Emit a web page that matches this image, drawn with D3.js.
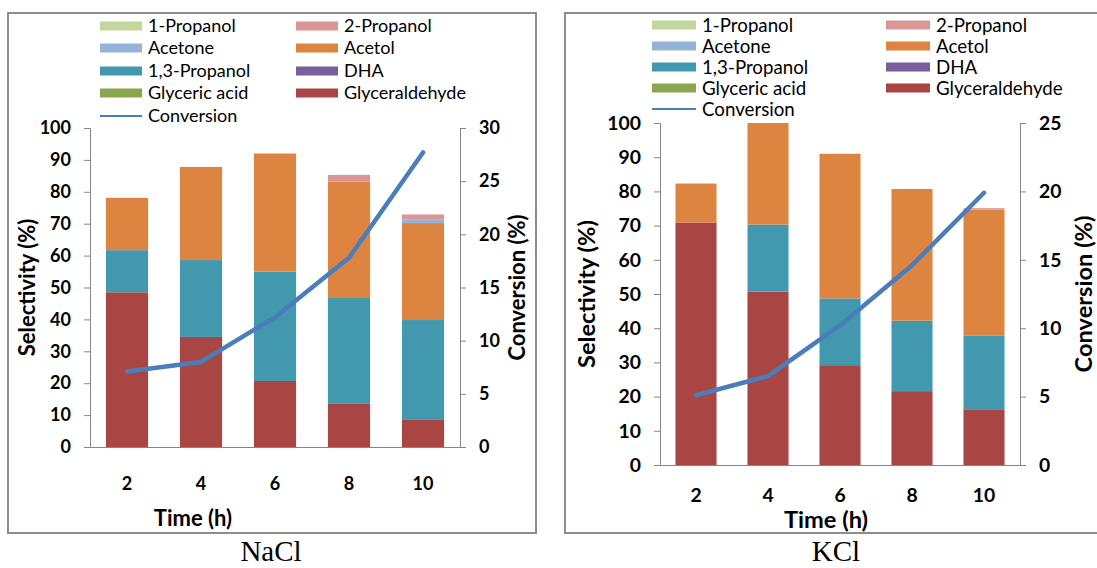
<!DOCTYPE html>
<html>
<head>
<meta charset="utf-8">
<script src="https://cdn.jsdelivr.net/npm/d3@7"></script>
<style>
  body { margin: 0; background: #fff; }
  svg { display: block; font-family: Lato, "Open Sans", sans-serif; }
</style>
</head>
<body>
<svg id="fig" width="1097" height="568"></svg>
<script>
// reaction time categories (h)
var times = ["2", "4", "6", "8", "10"];

// NaCl - selectivity (%) per product, and glycerol conversion (%)
var naclGlyceraldehyde = [48.5, 34.5, 20.7, 13.7, 8.7];
var naclGlycericAcid   = [0, 0, 0, 0, 0];
var naclDHA            = [0, 0, 0, 0, 0];
var naclPropanediol    = [13.2, 24.1, 34.3, 33.0, 31.1];
var naclAcetol         = [16.4, 29.2, 37.0, 36.5, 30.4];
var naclAcetone        = [0, 0, 0, 0, 1.2];
var nacl2Propanol      = [0, 0, 0, 2.1, 1.5];
var nacl1Propanol      = [0, 0, 0, 0, 0];
var naclConversion     = [7.1, 8.0, 12.2, 17.8, 27.7];

// KCl
var kclGlyceraldehyde = [70.9, 50.7, 29.2, 21.6, 16.1];
var kclGlycericAcid   = [0, 0, 0, 0, 0];
var kclDHA            = [0, 0, 0, 0, 0];
var kclPropanediol    = [0, 19.6, 19.5, 20.6, 21.8];
var kclAcetol         = [11.4, 29.7, 42.3, 38.5, 36.8];
var kclAcetone        = [0, 0, 0, 0, 0];
var kcl2Propanol      = [0, 0, 0, 0, 0.4];
var kcl1Propanol      = [0, 0, 0, 0, 0];
var kclConversion     = [5.1, 6.5, 10.2, 14.6, 19.9];

// legend order (two columns, read row by row)
var legendNames = ["1-Propanol", "2-Propanol", "Acetone", "Acetol",
                   "1,3-Propanol", "DHA", "Glyceric acid", "Glyceraldehyde"];
// stacking order, bottom to top
var stackKeys = ["Glyceraldehyde", "Glyceric acid", "DHA", "1,3-Propanol",
                 "Acetol", "Acetone", "2-Propanol", "1-Propanol"];

var colors = {
  "1-Propanol": "#c3d69b",
  "2-Propanol": "#d99694",
  "Acetone": "#95b3d7",
  "Acetol": "#dd8540",
  "1,3-Propanol": "#4298af",
  "DHA": "#7b5f9c",
  "Glyceric acid": "#8aa64f",
  "Glyceraldehyde": "#a94644"
};
var lineColor = "#4a7ebb";
var axisColor = "#868686";

var svg = d3.select("#fig");

// build row objects for d3.stack
function makeRows(s) {
  return times.map(function (t, i) {
    return {
      time: t,
      "Glyceraldehyde": s.gly[i],
      "Glyceric acid": s.ga[i],
      "DHA": s.dha[i],
      "1,3-Propanol": s.pd[i],
      "Acetol": s.acetol[i],
      "Acetone": s.acetone[i],
      "2-Propanol": s.p2[i],
      "1-Propanol": s.p1[i],
      conv: s.conv[i]
    };
  });
}

function drawPanel(p) {
  var g = svg.append("g");
  var k = p.k; // the two panels were pasted at slightly different sizes

  // outer frame
  g.append("rect")
    .attr("x", p.frame[0]).attr("y", p.frame[1])
    .attr("width", p.frame[2]).attr("height", p.frame[3])
    .attr("fill", "none").attr("stroke", "#8c8c8c").attr("stroke-width", 2);

  var x = d3.scaleBand().domain(times).range([p.left, p.right])
    .paddingInner(0.43).paddingOuter(0.215);
  var y = d3.scaleLinear().domain([0, 100]).range([p.bottom, p.top]);
  var y2 = d3.scaleLinear().domain([0, p.convMax]).range([p.bottom, p.top]);

  var stacked = d3.stack().keys(stackKeys)(p.rows);

  // bars
  g.selectAll("g.layer").data(stacked).enter().append("g")
    .attr("fill", function (d) { return colors[d.key]; })
    .selectAll("rect").data(function (d) { return d; }).enter().append("rect")
    .attr("x", function (d) { return x(d.data.time); })
    .attr("width", x.bandwidth())
    .attr("y", function (d) { return y(d[1]); })
    .attr("height", function (d) { return y(d[0]) - y(d[1]); });

  // axes
  var styleAxis = function (a) {
    a.attr("font-family", null);
    a.selectAll("path, line").attr("stroke", axisColor);
    a.selectAll("text").attr("fill", "#000")
      .style("font-size", (18 * k) + "px").style("font-weight", "bold");
  };
  g.append("g").attr("transform", "translate(" + p.left + ",0)")
    .call(d3.axisLeft(y).tickValues(d3.range(0, 101, 10)).tickSize(6).tickPadding(13))
    .call(styleAxis);
  g.append("g").attr("transform", "translate(" + p.right + ",0)")
    .call(d3.axisRight(y2).tickValues(d3.range(0, p.convMax + 1, 5)).tickSize(6).tickPadding(13))
    .call(styleAxis);
  g.append("g").attr("transform", "translate(0," + p.bottom + ")")
    .call(d3.axisBottom(x).tickSize(0).tickSizeOuter(0).tickPadding(p.xPad))
    .call(styleAxis);

  // conversion line
  g.append("path").datum(p.rows)
    .attr("fill", "none").attr("stroke", lineColor).attr("stroke-width", 4.5)
    .attr("stroke-linejoin", "round").attr("stroke-linecap", "round")
    .attr("d", d3.line()
      .x(function (d) { return x(d.time) + x.bandwidth() / 2; })
      .y(function (d) { return y2(d.conv); }));

  // axis titles
  var titleSize = (22 * k) + "px";
  g.append("text").attr("transform", "translate(" + p.yTitleX + "," + (p.top + p.bottom) / 2 + ") rotate(-90)")
    .attr("text-anchor", "middle").attr("dy", "0.35em")
    .style("font-size", titleSize).style("font-weight", "bold").text("Selectivity (%)");
  g.append("text").attr("transform", "translate(" + p.y2TitleX + "," + (p.top + p.bottom) / 2 + ") rotate(-90)")
    .attr("text-anchor", "middle").attr("dy", "0.35em")
    .style("font-size", titleSize).style("font-weight", "bold").text("Conversion (%)");
  g.append("text").attr("x", p.xTitleX).attr("y", p.xTitleY).attr("dy", "0.35em")
    .attr("text-anchor", "middle")
    .style("font-size", titleSize).style("font-weight", "bold").text("Time (h)");

  // legend
  var lg = g.append("g");
  var legSize = (18 * Math.min(k, 1.04)) + "px";
  legendNames.forEach(function (name, i) {
    var col = i % 2, row = Math.floor(i / 2);
    var lx = p.legX[col], ly = p.legY[row];
    lg.append("rect").attr("x", lx).attr("y", ly - 4.5)
      .attr("width", p.swW).attr("height", 9).attr("fill", colors[name]);
    lg.append("text").attr("x", lx + p.swW + 6).attr("y", ly).attr("dy", "0.35em")
      .style("font-size", legSize).text(name);
  });
  lg.append("line").attr("x1", p.legX[0]).attr("x2", p.legX[0] + p.swW)
    .attr("y1", p.legY[4]).attr("y2", p.legY[4])
    .attr("stroke", lineColor).attr("stroke-width", 2);
  lg.append("text").attr("x", p.legX[0] + p.swW + 6).attr("y", p.legY[4]).attr("dy", "0.35em")
    .style("font-size", legSize).text("Conversion");

  // panel caption
  svg.append("text").attr("x", p.capX).attr("y", 551).attr("dy", "0.35em")
    .attr("text-anchor", "middle")
    .style("font-family", "'Liberation Serif', 'Times New Roman', serif")
    .style("font-size", "29px").text(p.caption);
}

drawPanel({
  caption: "NaCl", capX: 271, k: 1,
  frame: [8, 13, 528, 520],
  left: 90, right: 460, top: 128, bottom: 447,
  convMax: 30, xPad: 30,
  yTitleX: 27, y2TitleX: 517, xTitleX: 193, xTitleY: 518,
  legX: [100, 296], swW: 42, legY: [26, 48, 71, 93, 116],
  rows: makeRows({
    gly: naclGlyceraldehyde, ga: naclGlycericAcid, dha: naclDHA, pd: naclPropanediol,
    acetol: naclAcetol, acetone: naclAcetone, p2: nacl2Propanol, p1: nacl1Propanol,
    conv: naclConversion
  })
});

drawPanel({
  caption: "KCl", capX: 836, k: 1.075,
  frame: [565, 13, 560, 520],
  left: 660, right: 1020, top: 123, bottom: 465,
  convMax: 25, xPad: 23,
  yTitleX: 587, y2TitleX: 1084, xTitleX: 826, xTitleY: 520,
  legX: [652, 886], swW: 44, legY: [25, 46, 67, 88, 109],
  rows: makeRows({
    gly: kclGlyceraldehyde, ga: kclGlycericAcid, dha: kclDHA, pd: kclPropanediol,
    acetol: kclAcetol, acetone: kclAcetone, p2: kcl2Propanol, p1: kcl1Propanol,
    conv: kclConversion
  })
});
</script>
</body>
</html>
